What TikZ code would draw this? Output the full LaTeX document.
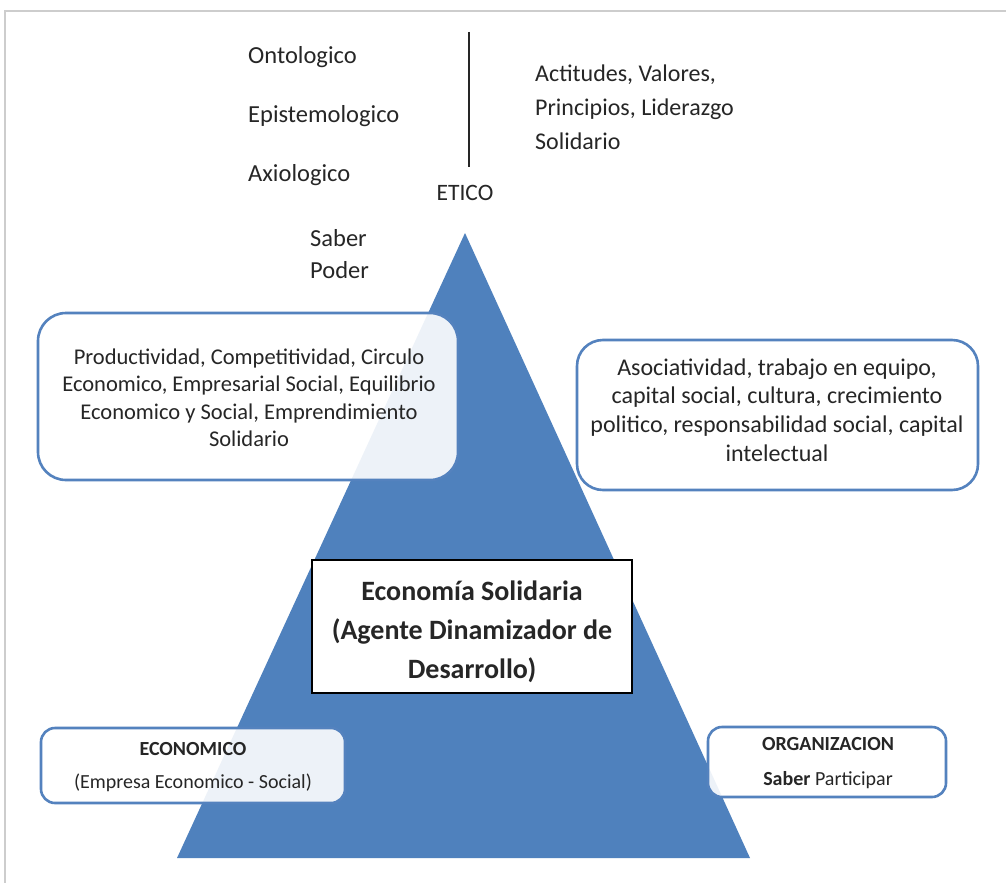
\documentclass[tikz,border=0pt]{standalone}
\usepackage{fontspec}
\setmainfont{Carlito}
\definecolor{triblue}{RGB}{79,129,189}
\definecolor{edgeblue}{RGB}{84,130,190}
\definecolor{ink}{RGB}{38,38,38}
\definecolor{framegray}{RGB}{205,205,205}
\begin{document}
\begin{tikzpicture}[x=1pt,y=-1pt,
  label/.style={text=ink, inner sep=0pt, font=\fontsize{24.5}{34}\selectfont},
  softbox/.style={draw=edgeblue, line width=2.6pt, fill=white, fill opacity=0.9,
    inner sep=0pt},
  boxtext/.style={text=ink, align=center, inner sep=0pt},
  corebox/.style={draw=black, line width=1.6pt, fill=white, inner sep=0pt}]
\useasboundingbox (0,0) rectangle (1006,883);
\fill[white] (0,0) rectangle (1006,883);
% page frame
\draw[framegray, line width=1.2pt] (1006,11) -- (5,11) -- (5,883);

% pyramid
\fill[triblue] (465,233) -- (750,858) -- (177,858) -- cycle;

% upper labels
\node[label, anchor=west] (onto) at (248,57) {Ontologico};
\node[label, anchor=west] (epis) at (248,116) {Epistemologico};
\node[label, anchor=west] (axio) at (248,175) {Axiologico};
\node[label, anchor=west] (saber) at (310,238) {Saber};
\node[label, anchor=west] (poder) at (310,270) {Poder};
\node[label, font=\fontsize{23.5}{34}\selectfont] (etico) at (465,193) {ETICO};
\node[label, anchor=west, align=left, font=\fontsize{24}{34}\selectfont] (valores) at (535,107)
  {Actitudes, Valores,\\Principios, Liderazgo\\Solidario};

% divider above ETICO
\coordinate (divtop) at (469,32);
\coordinate (divbot) at (469,167);
\draw[ink, line width=1.3pt] (divtop) -- (divbot);

% rounded boxes
\node[softbox, rounded corners=28pt, minimum width=420pt, minimum height=167pt] (prod) at (248,396.5) {};
\node[boxtext, font=\fontsize{22.5}{27.5}\selectfont] (prodtxt) at (249,398)
  {Productividad, Competitividad, Circulo\\Economico, Empresarial Social, Equilibrio\\Economico y Social, Emprendimiento\\Solidario};
\node[softbox, rounded corners=26pt, minimum width=401pt, minimum height=150pt] (asoc) at (777.5,415) {};
\node[boxtext, font=\fontsize{24}{28.5}\selectfont] (asoctxt) at (777,410)
  {Asociatividad, trabajo en equipo,\\capital social, cultura, crecimiento\\politico, responsabilidad social, capital\\intelectual};

% central box
\node[corebox, minimum width=320pt, minimum height=133pt] (core) at (472,626.5) {};
\node[boxtext, font=\bfseries\fontsize{28}{39}\selectfont] (coretxt) at (472,632)
  {Economía Solidaria\\(Agente Dinamizador de\\Desarrollo)};

% bottom boxes
\node[softbox, rounded corners=14pt, minimum width=304pt, minimum height=75pt] (econ) at (193,765.5) {};
\node[boxtext, font=\fontsize{20}{33}\selectfont] (econtxt) at (193,767)
  {\textbf{ECONOMICO}\\(Empresa Economico - Social)};
\node[softbox, rounded corners=14pt, minimum width=238pt, minimum height=70pt] (org) at (827,762) {};
\node[boxtext, font=\fontsize{20}{35}\selectfont] (orgtxt) at (828,763)
  {\textbf{ORGANIZACION}\\\textbf{Saber} Participar};
\end{tikzpicture}
\end{document}
